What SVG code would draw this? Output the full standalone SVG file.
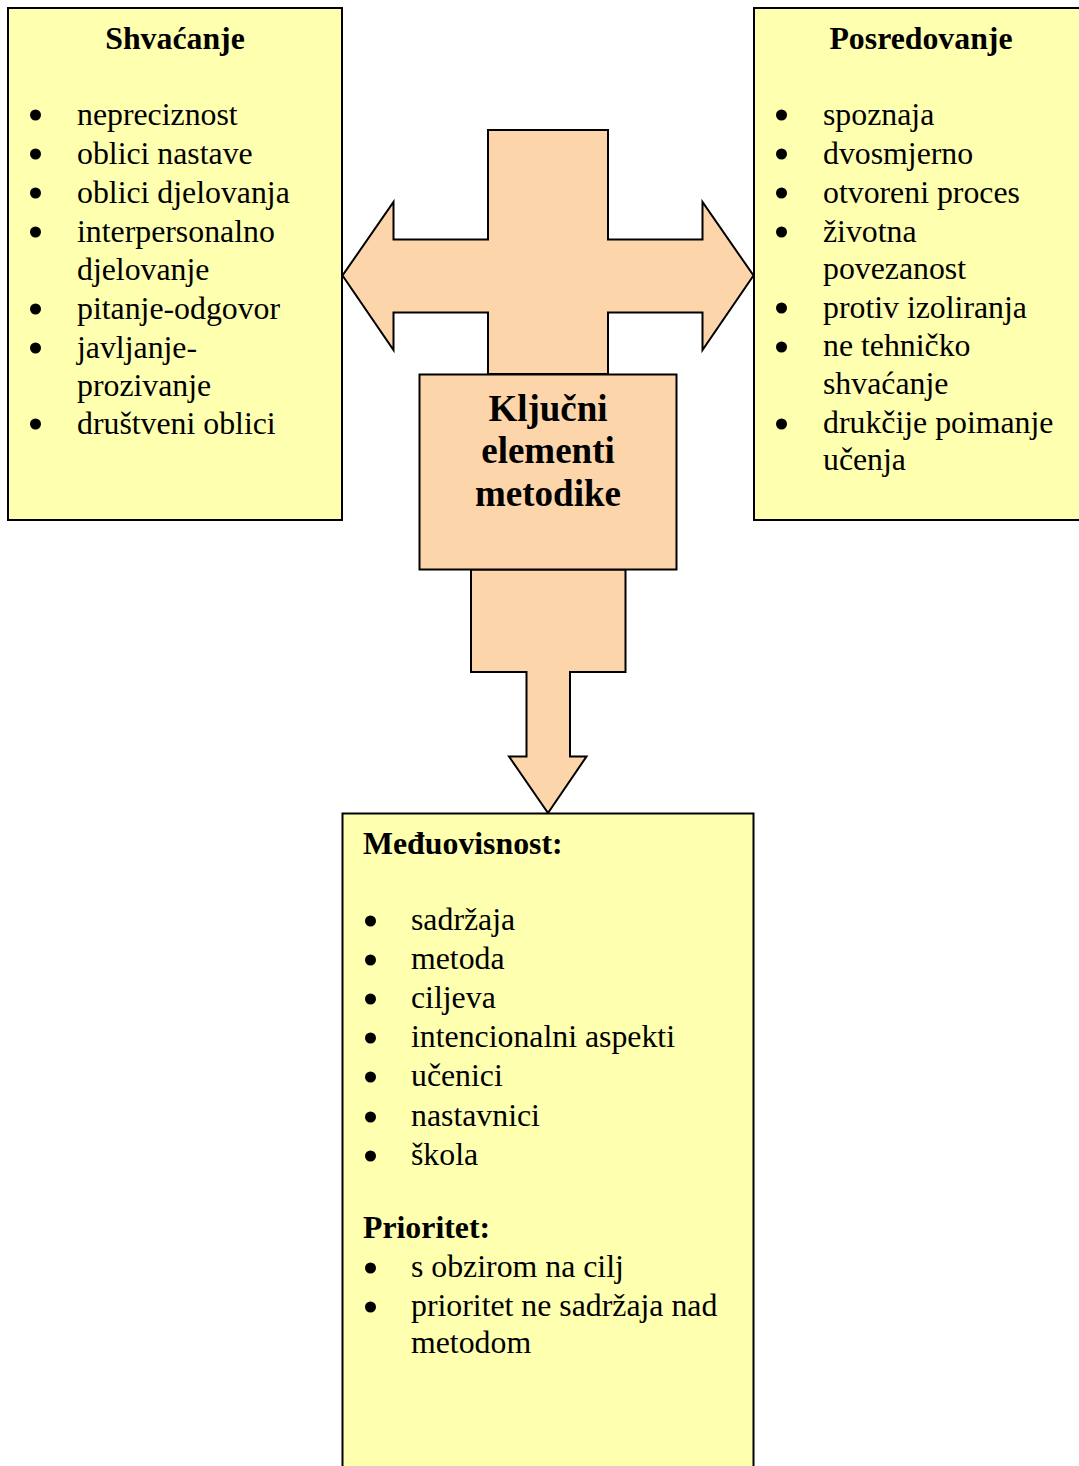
<svg xmlns="http://www.w3.org/2000/svg" width="1079" height="1466" viewBox="0 0 1079 1466">
  <style>
    .box { fill: #FFFFB0; stroke: #000; stroke-width: 2; }
    .shape { fill: #FCD6AA; stroke: #000; stroke-width: 2; stroke-linejoin: miter; }
    .t { font-family: "Liberation Serif", "Times New Roman", serif; font-size: 31.8px; fill: #000; }
    .h { font-family: "Liberation Serif", "Times New Roman", serif; font-size: 31.8px; font-weight: bold; fill: #000; }
    .c { font-family: "Liberation Serif", "Times New Roman", serif; font-size: 37px; font-weight: bold; fill: #000; text-anchor: middle; }
    .b { fill: #000; }
  </style>
  <rect width="1079" height="1466" fill="#fff"/>

  <!-- connectors: four-way arrow and downward arrow -->
  <g id="connectors">
    <path class="shape" d="M488,130 H608 V239.5 H702.5 V202 L753.5,275.5 L702.5,350 V312.5 H608 V374 H488 V312.5 H393.5 V350 L342.5,275.5 L393.5,202 V239.5 H488 Z"/>
    <path class="shape" d="M471,569.5 H625.5 V672 H570 V756.5 H586.5 L548,813 L509,756.5 H526.5 V672 H471 Z"/>
  </g>

  <!-- left: Shvaćanje -->
  <g id="shvacanje">
    <rect class="box" x="8" y="8" width="334" height="512"/>
    <text class="h" x="175" y="49" text-anchor="middle">Shvaćanje</text>
    <g class="b">
      <circle cx="35.5" cy="115" r="5.5"/>
      <circle cx="35.5" cy="154" r="5.5"/>
      <circle cx="35.5" cy="193" r="5.5"/>
      <circle cx="35.5" cy="232" r="5.5"/>
      <circle cx="35.5" cy="309" r="5.5"/>
      <circle cx="35.5" cy="348" r="5.5"/>
      <circle cx="35.5" cy="424" r="5.5"/>
    </g>
    <text class="t" x="77" y="125">nepreciznost</text>
    <text class="t" x="77" y="164">oblici nastave</text>
    <text class="t" x="77" y="203">oblici djelovanja</text>
    <text class="t" x="77" y="242">interpersonalno</text>
    <text class="t" x="77" y="280">djelovanje</text>
    <text class="t" x="77" y="319">pitanje-odgovor</text>
    <text class="t" x="77" y="358">javljanje-</text>
    <text class="t" x="77" y="396">prozivanje</text>
    <text class="t" x="77" y="434">društveni oblici</text>
  </g>

  <!-- right: Posredovanje -->
  <g id="posredovanje">
    <rect class="box" x="754" y="8" width="340" height="512"/>
    <text class="h" x="921" y="49" text-anchor="middle">Posredovanje</text>
    <g class="b">
      <circle cx="781.5" cy="115" r="5.5"/>
      <circle cx="781.5" cy="154" r="5.5"/>
      <circle cx="781.5" cy="193" r="5.5"/>
      <circle cx="781.5" cy="232" r="5.5"/>
      <circle cx="781.5" cy="308" r="5.5"/>
      <circle cx="781.5" cy="347" r="5.5"/>
      <circle cx="781.5" cy="424" r="5.5"/>
    </g>
    <text class="t" x="823" y="125">spoznaja</text>
    <text class="t" x="823" y="164">dvosmjerno</text>
    <text class="t" x="823" y="203">otvoreni proces</text>
    <text class="t" x="823" y="242">životna</text>
    <text class="t" x="823" y="279">povezanost</text>
    <text class="t" x="823" y="318">protiv izoliranja</text>
    <text class="t" x="823" y="356">ne tehničko</text>
    <text class="t" x="823" y="394">shvaćanje</text>
    <text class="t" x="823" y="433">drukčije poimanje</text>
    <text class="t" x="823" y="470">učenja</text>
  </g>

  <!-- centre: Ključni elementi metodike -->
  <g id="kljucni">
    <rect class="shape" x="419.5" y="374.5" width="257" height="195"/>
    <text class="c" x="548" y="421">Ključni</text>
    <text class="c" x="548" y="463">elementi</text>
    <text class="c" x="548" y="506">metodike</text>
  </g>

  <!-- bottom: Međuovisnost / Prioritet -->
  <g id="meduovisnost">
    <rect class="box" x="342.5" y="813.5" width="411" height="700"/>
    <text class="h" x="363" y="854">Međuovisnost:</text>
    <g class="b">
      <circle cx="370.5" cy="921" r="5.5"/>
      <circle cx="370.5" cy="960" r="5.5"/>
      <circle cx="370.5" cy="999" r="5.5"/>
      <circle cx="370.5" cy="1038" r="5.5"/>
      <circle cx="370.5" cy="1077" r="5.5"/>
      <circle cx="370.5" cy="1117" r="5.5"/>
      <circle cx="370.5" cy="1156" r="5.5"/>
      <circle cx="370.5" cy="1268" r="5.5"/>
      <circle cx="370.5" cy="1307" r="5.5"/>
    </g>
    <text class="t" x="411" y="930">sadržaja</text>
    <text class="t" x="411" y="969">metoda</text>
    <text class="t" x="411" y="1008">ciljeva</text>
    <text class="t" x="411" y="1047">intencionalni aspekti</text>
    <text class="t" x="411" y="1086">učenici</text>
    <text class="t" x="411" y="1126">nastavnici</text>
    <text class="t" x="411" y="1165">škola</text>
    <text class="h" x="363" y="1238">Prioritet:</text>
    <text class="t" x="411" y="1277">s obzirom na cilj</text>
    <text class="t" x="411" y="1316">prioritet ne sadržaja nad</text>
    <text class="t" x="411" y="1353">metodom</text>
  </g>
</svg>
